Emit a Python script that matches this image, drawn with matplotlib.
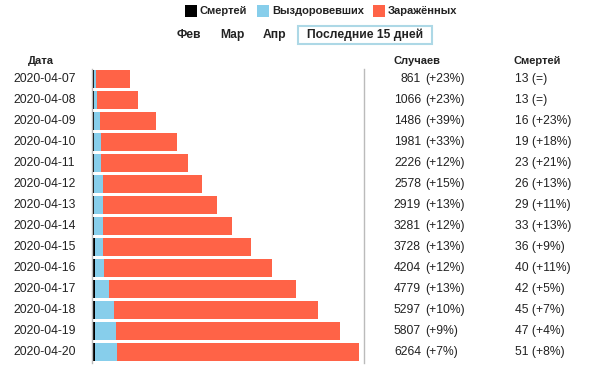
import matplotlib
matplotlib.use("Agg")
import matplotlib.pyplot as plt
from matplotlib.patches import Rectangle

plt.rcParams['font.family'] = ['Liberation Sans', 'DejaVu Sans']

dates = ['2020-04-07', '2020-04-08', '2020-04-09', '2020-04-10', '2020-04-11',
         '2020-04-12', '2020-04-13', '2020-04-14', '2020-04-15', '2020-04-16',
         '2020-04-17', '2020-04-18', '2020-04-19', '2020-04-20']
cases = [861, 1066, 1486, 1981, 2226, 2578, 2919, 3281, 3728, 4204, 4779, 5297, 5807, 6264]
cases_pct = ['+23%', '+23%', '+39%', '+33%', '+12%', '+15%', '+13%', '+12%', '+13%',
             '+12%', '+13%', '+10%', '+9%', '+7%']
deaths = [13, 13, 16, 19, 23, 26, 29, 33, 36, 40, 42, 45, 47, 51]
deaths_pct = ['=', '=', '+23%', '+18%', '+21%', '+13%', '+11%', '+13%', '+9%',
              '+11%', '+5%', '+7%', '+4%', '+8%']
recovered = [55, 80, 150, 170, 175, 205, 210, 210, 210, 215, 334, 449, 494, 520]
infected = [c - d - r for c, d, r in zip(cases, deaths, recovered)]

legend_labels = ['Смертей', 'Выздоровевших', 'Заражённых']
colors = ['#000000', '#87CEEB', '#FF6347']
buttons = ['Фев', 'Мар', 'Апр']
active_button = 'Последние 15 дней'
headers = ['Дата', 'Случаев', 'Смертей']

W, H = 591, 369
fig = plt.figure(figsize=(W / 100, H / 100), dpi=100)


def fx(px):
    return px / W


def fy(py):
    return 1 - py / H


# bar axes
left_px, right_px, top_px, bot_px = 92, 364, 68.5, 362.5
ax = fig.add_axes([fx(left_px), fy(bot_px), fx(right_px - left_px), (bot_px - top_px) / H])
scale = 0.04246  # px per case
x0 = -1 / scale
ax.set_xlim(x0, (right_px - 93) / scale)
ax.set_ylim(len(dates) - 0.5, -0.5)
ypos = list(range(len(dates)))
bh = 0.87
ax.barh(ypos, deaths, height=bh, color=colors[0], linewidth=0)
ax.barh(ypos, recovered, left=deaths, height=bh, color=colors[1], linewidth=0)
left2 = [d + r for d, r in zip(deaths, recovered)]
ax.barh(ypos, infected, left=left2, height=bh, color=colors[2], linewidth=0)
ax.set_xticks([])
ax.set_yticks([])
for s in ['top', 'bottom']:
    ax.spines[s].set_visible(False)
for s in ['left', 'right']:
    ax.spines[s].set_color('#bbbbbb')
    ax.spines[s].set_linewidth(1)

fs = 8.7
txtc = '#222222'
for i, d in enumerate(dates):
    py = 79 + 21 * i
    fig.text(fx(13), fy(py), d, ha='left', va='center', fontsize=fs, color=txtc)
    fig.text(fx(421), fy(py), str(cases[i]), ha='right', va='center', fontsize=fs, color=txtc)
    fig.text(fx(425), fy(py), '(' + cases_pct[i] + ')', ha='left', va='center', fontsize=fs, color=txtc)
    fig.text(fx(515), fy(py), f'{deaths[i]} ({deaths_pct[i]})', ha='left', va='center',
             fontsize=fs, color=txtc)

# headers
hfs = 8
bfs = 8.7
fig.text(fx(28), fy(61), headers[0], ha='left', va='center', fontsize=hfs, fontweight='bold', color=txtc)
fig.text(fx(394), fy(61), headers[1], ha='left', va='center', fontsize=hfs, fontweight='bold', color=txtc)
fig.text(fx(513), fy(61), headers[2], ha='left', va='center', fontsize=hfs, fontweight='bold', color=txtc)

# legend
leg_sq = [185, 257, 373]
leg_tx = [200, 272, 388]
for sq, tx, lab, c in zip(leg_sq, leg_tx, legend_labels, colors):
    fig.patches.append(Rectangle((fx(sq), fy(17)), fx(12), 12 / H, transform=fig.transFigure,
                                 facecolor=c, edgecolor='none'))
    fig.text(fx(tx), fy(11), lab, ha='left', va='center', fontsize=hfs, fontweight='bold', color=txtc)

# buttons
for bx, lab in zip([177, 220, 263], buttons):
    fig.text(fx(bx), fy(35), lab, ha='left', va='center', fontsize=bfs, fontweight='bold', color=txtc)
fig.patches.append(Rectangle((fx(298), fy(43.5)), fx(134), 17.5 / H, transform=fig.transFigure,
                             facecolor='white', edgecolor='#add8e6', linewidth=1.5))
fig.text(fx(365.5), fy(35), active_button, ha='center', va='center', fontsize=bfs,
         fontweight='bold', color=txtc)

fig.savefig('out.png', dpi=100)
